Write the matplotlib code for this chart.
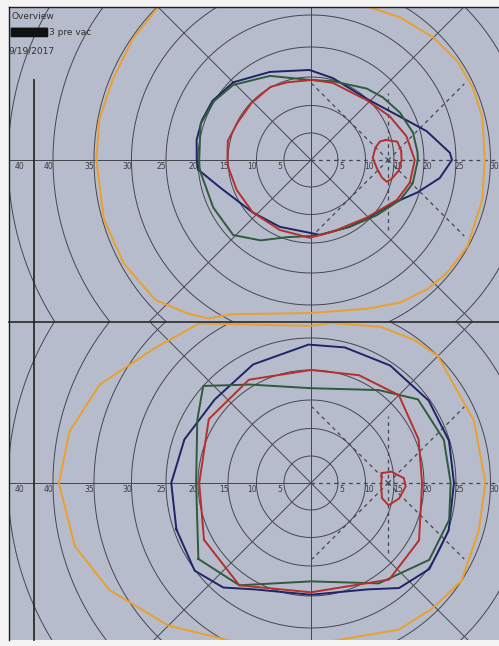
import numpy as np
import matplotlib.pyplot as plt
from matplotlib.patches import Rectangle, FancyBboxPatch

# ---- chart scale (eccentricity is drawn on a slightly stretched radius) ----
WARP_K = 0.0001239
RING_ECC = [5, 10, 15, 20, 25, 30, 35, 40, 45]
TICK_ECC_LEFT = [5, 10, 15, 20, 25, 30, 35, 40]
TICK_ECC_RIGHT = [5, 10, 15, 20, 25, 30]

# ---- top panel isopters (meridian deg, eccentricity deg) ----
top_navy_ang = [-175, -163, -138, -115, -83, -60, -44, -28, -17, -8, 0, 3, 14, 26, 47, 75, 91, 115, 135, 149, 160, 170, 180]
top_navy_ecc = [20.0, 17.0, 14.2, 13.4, 13.7, 14.0, 14.8, 16.6, 19.7, 22.7, 24.4, 24.1, 21.0, 17.7, 15.0, 15.3, 16.2, 17.4, 19.5, 20.3, 20.5, 20.5, 20.2]

top_green_ang = [-175, -154, -136, -122, -107, -86, -60, -40, -24, -13, 0, 4, 15, 28, 41, 52, 74, 91, 116, 136, 149, 162, 180]
top_green_ecc = [19.8, 19.3, 19.2, 17.0, 14.6, 13.8, 14.0, 15.5, 17.5, 18.6, 19.0, 19.0, 18.8, 18.0, 17.1, 16.3, 14.8, 14.5, 16.8, 19.2, 20.1, 20.5, 19.8]

top_red_ang = [-175, -158, -138, -114, -91, -73, -46, -25, -13, 0, 14, 29, 47, 74, 89, 107, 119, 136, 153, 167, 180]
top_red_ecc = [15.0, 14.5, 14.2, 13.9, 14.1, 13.6, 14.5, 17.0, 18.1, 18.5, 17.6, 16.2, 14.8, 14.5, 14.5, 14.7, 15.1, 14.9, 14.9, 15.4, 15.1]

top_spot_ang = [15, 12, 6, 0, -7, -13, -16, -14, -7, 2, 11, 15]
top_spot_ecc = [14.0, 15.9, 16.3, 16.3, 15.9, 15.0, 14.3, 13.3, 12.1, 11.3, 12.0, 13.0]

top_orange_ang = [-164, -151, -138, -129, -123, -117, -90, -69, -58, -48, -40, -29, -13, 0, 14, 24, 34, 45, 58, 68, 90, 112, 135, 146, 158, 169, 180]
top_orange_ecc = [34.8, 34.6, 34.0, 32.4, 31.3, 29.1, 26.2, 27.1, 28.4, 29.2, 29.6, 29.9, 29.5, 29.2, 29.6, 29.7, 29.6, 29.1, 28.4, 27.8, 29.5, 32.5, 34.9, 34.8, 34.6, 34.8, 34.7]

# ---- bottom panel isopters ----
bot_navy_ang = [-161, -143, -130, -118, -90, -62, -50, -36, -19, 0, 17, 35, 56, 76, 91, 116, 139, 161, 180]
bot_navy_ecc = [24.6, 25.1, 23.7, 21.2, 19.8, 21.2, 23.8, 25.2, 25.1, 24.7, 24.9, 24.8, 24.5, 24.2, 24.0, 23.0, 22.3, 23.3, 24.2]

bot_green_ang = [-146, -125, -90, -56, -33, -15, 0, 18, 38, 54, 90, 122, 138, 151, 180]
bot_green_ecc = [23.6, 21.9, 17.6, 21.3, 24.4, 24.7, 24.2, 24.2, 23.6, 20.3, 17.0, 20.5, 25.0, 22.7, 20.3]

bot_red_ang = [-152, -125, -90, -51, -28, 0, 22, 45, 66, 90, 121, 148, 180]
bot_red_ecc = [21.3, 21.9, 19.4, 21.8, 21.5, 19.7, 20.5, 21.8, 20.8, 20.0, 21.2, 21.2, 19.8]

bot_spot_ang = [8, 8, 3, -2, -10, -16, -12, -3]
bot_spot_ecc = [13.0, 14.7, 16.7, 17.0, 16.1, 14.6, 13.2, 12.8]

bot_orange_ang = [-165, -152, -135, -114, -85, -59, -46, -33, -16, 0, 21, 45, 54, 66, 83, 90, 125, 139, 155, 168, 180]
bot_orange_ecc = [38.4, 36.4, 33.0, 29.4, 27.2, 28.8, 29.3, 30.0, 29.3, 29.3, 29.3, 30.0, 29.6, 28.8, 27.4, 26.8, 32.1, 33.6, 37.0, 38.7, 39.3]

NAVY = "#1d2468"
GREEN = "#2f5b3c"
RED = "#b5302c"
ORANGE = "#e9a02c"
GRID = "#45454f"
PAPER = "#b7bccc"


def warp(e):
    e = np.asarray(e, dtype=float)
    return e + WARP_K * e ** 3


def polar_xy(ang, ecc, cy):
    t = np.radians(ang)
    r = warp(ecc)
    return r * np.cos(t), cy + r * np.sin(t)


fig = plt.figure(figsize=(4.99, 6.46), dpi=100, facecolor="#f3f3f3")
ax = fig.add_axes([0, 0, 1, 1])
ax.set_xlim(-57.77, 34.93)
ax.set_ylim(-90.28, 29.72)
ax.axis("off")

x0, x1 = -56.1, 34.93
y_top, y_mid, y_bot = 28.42, -30.1, -89.17
ax.add_patch(Rectangle((x0, y_bot), x1 - x0, y_top - y_bot, facecolor=PAPER, edgecolor="none", zorder=0))

panels = [(0.0, y_mid, y_top), (-60.0, y_bot, y_mid)]
isopters = [
    [(top_orange_ang, top_orange_ecc, ORANGE), (top_navy_ang, top_navy_ecc, NAVY),
     (top_green_ang, top_green_ecc, GREEN), (top_red_ang, top_red_ecc, RED),
     (top_spot_ang, top_spot_ecc, RED)],
    [(bot_orange_ang, bot_orange_ecc, ORANGE), (bot_navy_ang, bot_navy_ecc, NAVY),
     (bot_green_ang, bot_green_ecc, GREEN), (bot_red_ang, bot_red_ecc, RED),
     (bot_spot_ang, bot_spot_ecc, RED)],
]

for (cy, ylo, yhi), curves in zip(panels, isopters):
    clip = Rectangle((x0, ylo), x1 - x0, yhi - ylo, transform=ax.transData)
    arts = []
    # rings
    tt = np.linspace(0, 2 * np.pi, 400)
    for e in RING_ECC:
        r = warp(e)
        arts += ax.plot(r * np.cos(tt), cy + r * np.sin(tt), color=GRID, lw=0.7, zorder=1)
    # meridians
    for a in [45, 90, 135, 180, 225, 270, 315]:
        t = np.radians(a)
        arts += ax.plot([0, 120 * np.cos(t)], [cy, cy + 120 * np.sin(t)], color=GRID, lw=0.7, zorder=1)
    arts += ax.plot([0, 60], [cy, cy], color=GRID, lw=0.9, ls=(0, (3, 3)), zorder=1)
    # dashed star around the blind spot
    bx = warp(14.0)
    for a in [45, 135, 225, 315]:
        t = np.radians(a)
        arts += ax.plot([bx, bx + 20 * np.cos(t)], [cy, cy + 20 * np.sin(t)], color=GRID, lw=0.9, ls=(0, (3, 3)), zorder=1)
    arts += ax.plot([bx, bx], [cy - 13, cy + 12.5], color=GRID, lw=0.9, ls=(0, (3, 3)), zorder=1)
    for a in arts:
        a.set_clip_path(clip)
    # tick labels
    for e in TICK_ECC_LEFT:
        ax.text(-warp(e) - 0.8, cy - 0.45, str(e), fontsize=5.5, color="#3a3a44", ha="center", va="top", zorder=2)
    for e in TICK_ECC_RIGHT:
        ax.text(warp(e) + 0.7, cy - 0.45, str(e), fontsize=5.5, color="#3a3a44", ha="center", va="top", zorder=2)
    ax.text(-54.1, cy - 0.45, "40", fontsize=5.5, color="#3a3a44", ha="center", va="top", zorder=2)
    # isopters
    for ang, ecc, col in curves:
        x, y = polar_xy(ang, ecc, cy)
        x = np.append(x, x[0])
        y = np.append(y, y[0])
        ln, = ax.plot(x, y, color=col, lw=1.4, zorder=3, solid_joinstyle="round")
        ln.set_clip_path(clip)

# frame and separators
ax.plot([x0, x1], [y_top, y_top], color="#202020", lw=1.0, zorder=4)
ax.plot([x0, x0], [y_top, y_bot], color="#202020", lw=1.0, zorder=4)
ax.plot([x0, x1], [y_mid, y_mid], color="#2a2a2a", lw=1.2, zorder=4)
ax.plot([-51.5, -51.5], [14.9, y_bot], color="#202020", lw=1.2, zorder=4)

# header
ax.text(-55.6, 26.6, "Overview", fontsize=6.5, color="#303030", va="center", ha="left", zorder=5)
ax.add_patch(FancyBboxPatch((-55.6, 23.0), 6.6, 1.4, boxstyle="round,pad=0.2",
                            facecolor="#111111", edgecolor="none", zorder=5))
ax.text(-48.6, 23.6, "3 pre vac", fontsize=6.5, color="#303030", va="center", ha="left", zorder=5)
ax.text(-56.3, 20.3, "9/19/2017", fontsize=6.5, color="#303030", va="center", ha="left", zorder=5)

fig.savefig("out.png", dpi=100, facecolor=fig.get_facecolor())
